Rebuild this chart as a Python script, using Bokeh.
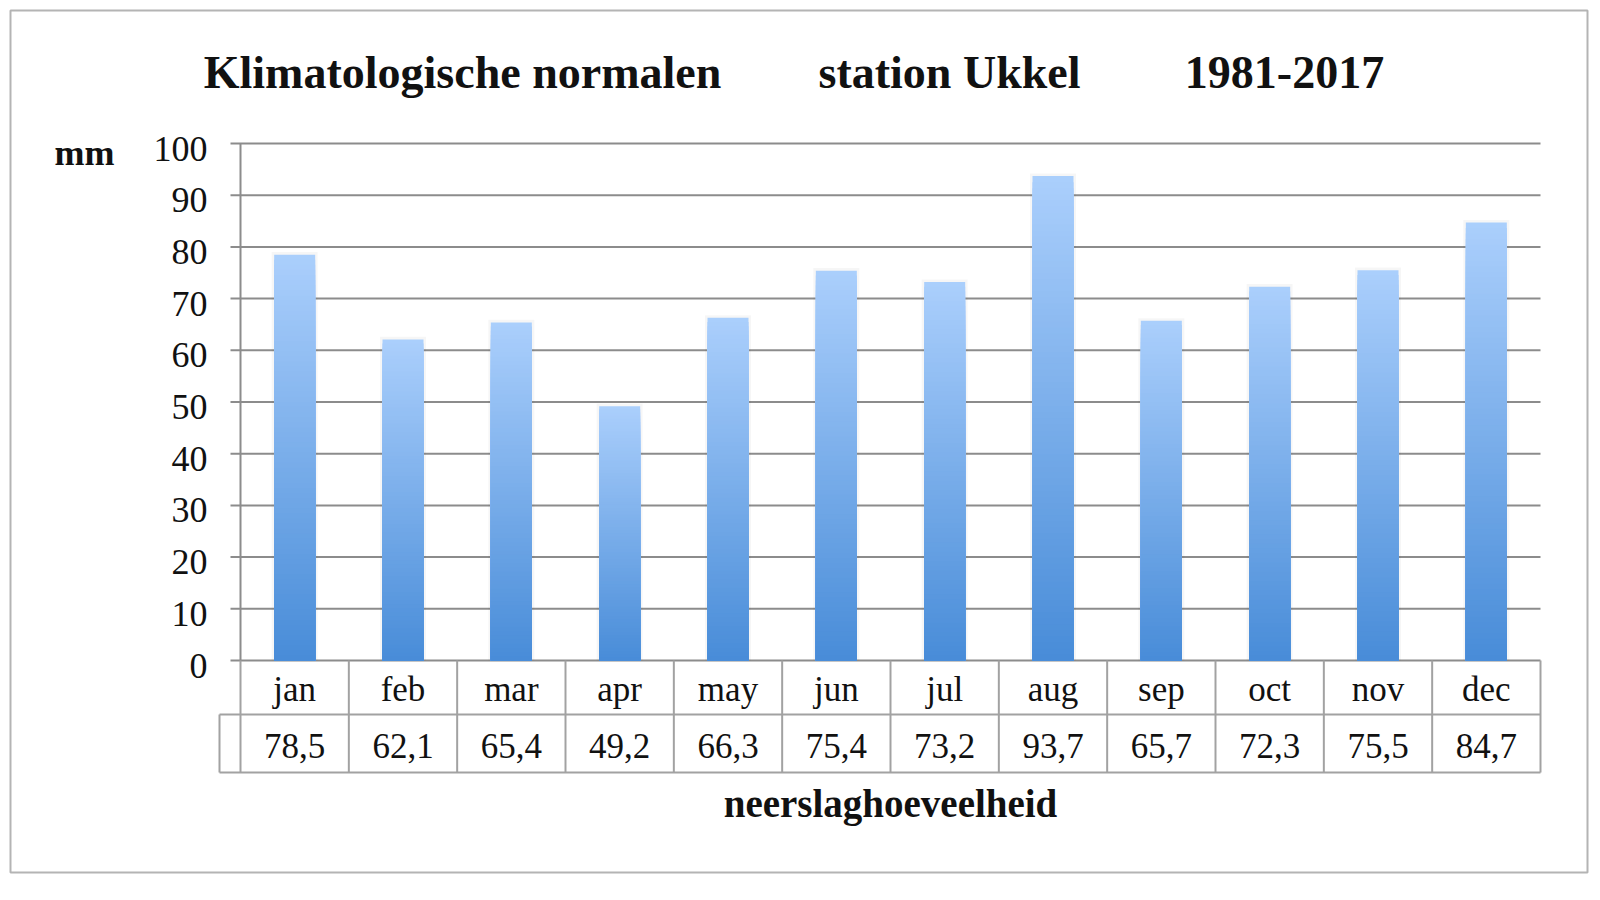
from bokeh.plotting import figure
from bokeh.models import Range1d, ColumnDataSource
from bokeh.core.properties import value
from bokeh.embed import file_html
from bokeh.resources import INLINE

# ---- data ----
months = ["jan", "feb", "mar", "apr", "may", "jun", "jul", "aug", "sep", "oct", "nov", "dec"]
precip = [78.5, 62.1, 65.4, 49.2, 66.3, 75.4, 73.2, 93.7, 65.7, 72.3, 75.5, 84.7]
precip_labels = ["78,5", "62,1", "65,4", "49,2", "66,3", "75,4", "73,2", "93,7", "65,7", "72,3", "75,5", "84,7"]
y_ticks = [0, 10, 20, 30, 40, 50, 60, 70, 80, 90, 100]
title_parts = ["Klimatologische normalen", "station Ukkel", "1981-2017"]
y_unit = "mm"
x_title = "neerslaghoeveelheid"

# ---- layout (pixels) ----
W, H = 1600, 900
L, R, T, B = 240, 1540, 143, 660
NCAT = len(months)
YMAX = 100
cw = (R - L) / NCAT
ppu = (B - T) / YMAX


def dx(px):
    return (px - L) / cw


def dy(py):
    return (B - py) / ppu


p = figure(width=W, height=H,
           x_range=Range1d(dx(0), dx(W)), y_range=Range1d(dy(H), dy(0)),
           output_backend="svg", toolbar_location=None, min_border=0,
           x_axis_type=None, y_axis_type=None)
p.outline_line_color = None
p.background_fill_color = "white"
p.border_fill_color = "white"

SERIF = value("Liberation Serif")
GRID = "#8c8c8c"
TAB = "#a2a2a2"

# outer frame
p.quad(left=[dx(10)], right=[dx(1587)], bottom=[dy(872)], top=[dy(10)],
       fill_color=None, line_color="#b4b4b4", line_width=2)

# gridlines with ticks
p.segment(x0=[dx(230)] * len(y_ticks), x1=[NCAT] * len(y_ticks), y0=y_ticks, y1=y_ticks,
          line_color=GRID, line_width=2)

# bars: soft shadow + vertical gradient (stacked from tallest/lightest to shortest/darkest)
bw = 41 / cw
p.vbar(x=[i + 0.5 for i in range(NCAT)], top=[v + 0.5 for v in precip], bottom=0,
       width=bw + 5 / cw, fill_color="#000000", fill_alpha=0.035, line_color=None)

top_rgb = (0xAB, 0xCF, 0xFC)
bot_rgb = (0x48, 0x8C, 0xD8)
N = 80
xs, tops, cols = [], [], []
for k in range(N - 1, -1, -1):
    f = (k + 0.5) / N
    c = tuple(int(round(bot_rgb[j] + (top_rgb[j] - bot_rgb[j]) * f)) for j in range(3))
    for i, v in enumerate(precip):
        xs.append(i + 0.5)
        tops.append(v * (k + 1) / N)
        cols.append("#%02x%02x%02x" % c)
p.vbar(x="x", bottom=0, top="t", width=bw, fill_color="c", line_color=None,
       source=ColumnDataSource(dict(x=xs, t=tops, c=cols)))

# vertical axis line
p.segment(x0=[0], x1=[0], y0=[0], y1=[YMAX], line_color=GRID, line_width=2)

# table
r1b = dy(714)
r2b = dy(772)
p.segment(x0=[dx(219), dx(219)], x1=[NCAT, NCAT], y0=[r1b, r2b], y1=[r1b, r2b],
          line_color=TAB, line_width=2)
p.segment(x0=list(range(NCAT + 1)), x1=list(range(NCAT + 1)),
          y0=[0] * (NCAT + 1), y1=[r2b] * (NCAT + 1), line_color=TAB, line_width=2)
p.segment(x0=[dx(219)], x1=[dx(219)], y0=[r1b], y1=[r2b], line_color=TAB, line_width=2)

cx = [i + 0.5 for i in range(NCAT)]
p.text(x=cx, y=[dy(689)] * NCAT, text=months, text_font=SERIF, text_font_size="35px",
       text_align="center", text_baseline="middle", text_color="#111111")
p.text(x=cx, y=[dy(745)] * NCAT, text=precip_labels, text_font=SERIF, text_font_size="35px",
       text_align="center", text_baseline="middle", text_color="#111111")

# y tick labels
p.text(x=[dx(207)] * len(y_ticks), y=[t - 5 / ppu for t in y_ticks], text=[str(t) for t in y_ticks],
       text_font=SERIF, text_font_size="36px", text_align="right", text_baseline="middle",
       text_color="#111111")

# unit label
p.text(x=[dx(84)], y=[dy(152)], text=[y_unit], text_font=SERIF, text_font_size="36px",
       text_font_style="bold", text_align="center", text_baseline="middle", text_color="#111111")

# x title
p.text(x=[dx(890)], y=[dy(803)], text=[x_title], text_font=SERIF, text_font_size="39px",
       text_font_style="bold", text_align="center", text_baseline="middle", text_color="#111111")

# title parts
p.text(x=[dx(462), dx(949), dx(1284)], y=[dy(72)] * 3, text=title_parts, text_font=SERIF,
       text_font_size="46px", text_font_style="bold", text_align="center", text_baseline="middle",
       text_color="#111111")

open("out.html", "w").write(file_html(p, INLINE))
